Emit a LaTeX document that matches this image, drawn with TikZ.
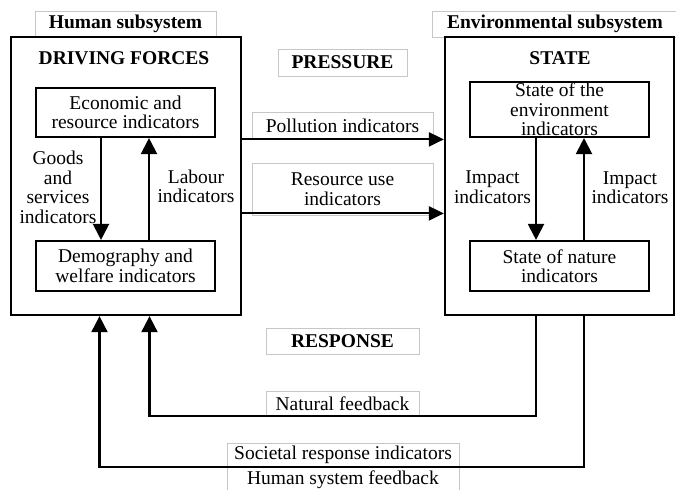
\documentclass[tikz,border=0pt]{standalone}
\usepackage{fontspec}
\setmainfont{Liberation Serif}
\usetikzlibrary{arrows.meta}
\begin{document}
\begin{tikzpicture}[x=1pt,y=-1pt,
  txt/.style={font=\fontsize{19.5}{19.5}\selectfont},
  bold/.style={font=\fontsize{19.5}{19.5}\selectfont\bfseries},
  bigbox/.style={draw, line width=2.3pt, inner sep=0pt},
  inbox/.style={draw, line width=2.1pt, inner sep=0pt, align=center, txt},
  graybox/.style={draw=black!22, line width=0.8pt, inner sep=0pt, fill=white},
  lbl/.style={inner sep=0pt, align=center, txt},
  arr/.style={line width=2.1pt, -{Triangle[width=16pt,length=16pt]}},
  flow/.style={line width=2.1pt, -{Triangle[width=14pt,length=15pt]}},
  link/.style={line width=2.1pt}]
\useasboundingbox (0,0) rectangle (676,489);

% subsystem captions (their lower edge is covered by the frames)
\node[graybox, bold, minimum width=181, minimum height=26] (humcap) at (125.5,24) {Human subsystem};
\node[graybox, bold, minimum width=246, minimum height=26] (envcap) at (555,24) {Environmental subsystem};

% subsystem frames
\node[bigbox, minimum width=230, minimum height=278] (human) at (126,176) {};
\node[bigbox, minimum width=229, minimum height=278] (env) at (559.5,176) {};

\node[bold, inner sep=0pt] (df) at (124,58) {DRIVING FORCES};
\node[bold, inner sep=0pt] (state) at (560,58) {STATE};

% inner indicator boxes
\node[inbox, minimum width=179, minimum height=49] (econ) at (125.5,112.5) {Economic and\\resource indicators};
\node[inbox, minimum width=179, minimum height=50] (demo) at (125.5,266) {Demography and\\welfare indicators};
\node[inbox, minimum width=179, minimum height=55] (senv) at (559.5,109.5) {State of the\\environment\\indicators};
\node[inbox, minimum width=179, minimum height=50] (snat) at (559.5,266) {State of nature\\indicators};

% flows inside the human subsystem
\draw[arr] ([xshift=-24.5pt]econ.south) -- ([xshift=-24.5pt]demo.north);
\draw[arr] ([xshift=23.5pt]demo.north) -- ([xshift=23.5pt]econ.south);
\node[lbl] (goods) at (58,187.5) {Goods\\and\\services\\indicators};
\node[lbl] (labour) at (196,186.5) {Labour\\indicators};

% flows inside the environmental subsystem
\draw[arr] ([xshift=-23.5pt]senv.south) -- ([xshift=-23.5pt]snat.north);
\draw[arr] ([xshift=24.5pt]snat.north) -- ([xshift=24.5pt]senv.south);
\node[lbl] (imp1) at (492.5,187) {Impact\\indicators};
\node[lbl] (imp2) at (630,187.5) {Impact\\indicators};

% pressure
\node[graybox, bold, minimum width=129, minimum height=27] (pressure) at (342.5,62.5) {PRESSURE};
\node[graybox, txt, minimum width=181, minimum height=27] (poll) at (342.5,125.5) {Pollution indicators};
\node[graybox, txt, align=center, minimum width=181, minimum height=52] (res) at (342.5,189) {Resource use\\indicators};
\draw[flow] (poll.south -| human.east) -- (poll.south -| env.west);
\draw[flow] ([yshift=2pt]res.south -| human.east) -- ([yshift=2pt]res.south -| env.west);

% response and feedback loops
\node[graybox, bold, minimum width=153, minimum height=26] (response) at (342.5,341) {RESPONSE};
\node[graybox, txt, minimum width=153, minimum height=25] (natfb) at (342.5,403.5) {Natural feedback};
\node[graybox, txt, minimum width=232, minimum height=24] (societal) at (343,455) {Societal response indicators};
\node[graybox, txt, minimum width=232, minimum height=26] (humfb) at (343,480) {Human system feedback};

\draw[arr] ([xshift=-23.5pt]env.south) |- (natfb.south) -| ([xshift=23.5pt]human.south);
\draw[arr] ([xshift=24.5pt]env.south) |- (societal.south) -| ([xshift=-26.5pt]human.south);
\end{tikzpicture}
\end{document}
